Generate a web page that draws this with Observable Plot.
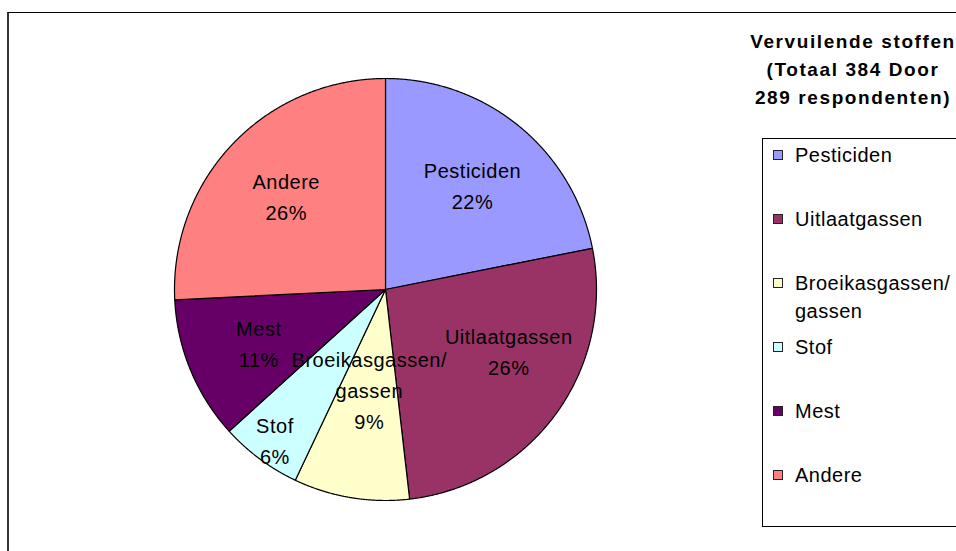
<!DOCTYPE html>
<html>
<head>
<meta charset="utf-8">
<script src="https://cdn.jsdelivr.net/npm/d3@7"></script>
<script src="https://cdn.jsdelivr.net/npm/@observablehq/plot@0.6"></script>
<style>
  html, body { margin: 0; padding: 0; background: #fff; }
  #wrap { position: relative; width: 956px; height: 551px; overflow: hidden; font-family: "Liberation Sans", Arial, sans-serif; }
  #frame { position: absolute; left: 7px; top: 12px; width: 2000px; height: 2000px; border-left: 2px solid #333; border-top: 1px solid #000; }
  #chart { position: absolute; left: 0; top: 0; }
  #title { position: absolute; left: 703px; top: 28px; width: 300px; text-align: center; font-weight: bold; font-size: 19px; line-height: 28px; letter-spacing: 1.6px; color: #000; white-space: nowrap; }
  #legend { position: absolute; left: 762px; top: 138px; width: 400px; height: 389px; border: 1px solid #000; box-sizing: border-box; padding-top: 2px; padding-left: 10px; }
  .item { height: 64px; display: flex; align-items: flex-start; font-size: 20px; line-height: 28px; letter-spacing: 0.5px; color: #000; white-space: pre-line; }
  .sw { width: 8px; height: 8px; border: 1px solid #222; margin-top: 9px; margin-right: 12px; flex: none; }
</style>
</head>
<body>
<div id="wrap">
  <div id="frame"></div>
  <div id="chart"></div>
  <div id="title"></div>
  <div id="legend"></div>
</div>
<script>
const categories = ["Pesticiden", "Uitlaatgassen", "Broeikasgassen/ gassen", "Stof", "Mest", "Andere"];
const counts = [84, 101, 34, 24, 42, 99];
const colors = ["#9999FF", "#993366", "#FFFFCC", "#CCFFFF", "#660066", "#FF8080"];
const titleLines = ["Vervuilende stoffen", "(Totaal 384 Door", "289 respondenten)"];

const total = d3.sum(counts);
const rows = categories.map((c, i) => ({category: c, count: counts[i]}));
const arcs = d3.pie().sort(null).value(d => d.count)(rows);

const pt = (a, r = 1) => [r * Math.sin(a), -r * Math.cos(a)];

const wedges = {
  type: "FeatureCollection",
  features: arcs.map(a => {
    const n = Math.max(2, Math.ceil((a.endAngle - a.startAngle) / 0.004));
    const ring = [[0, 0]];
    for (let k = 0; k <= n; k++) ring.push(pt(a.startAngle + (a.endAngle - a.startAngle) * k / n));
    ring.push([0, 0]);
    return {type: "Feature", properties: {category: a.data.category}, geometry: {type: "Polygon", coordinates: [ring]}};
  })
};

const circle = {type: "Polygon", coordinates: [d3.range(0, 361).map(d => pt(d * Math.PI / 180))]};

// label layout: start on the mid-angle at 0.65 R; on a collision the larger text block moves
// inward, the smaller one turns away inside its slice (if its slice is the wider) or moves outward
const R = 211, FS = 20, LH = 1.55, LS = 0.5;
const ctx = document.createElement("canvas").getContext("2d");
ctx.font = `${FS}px "Liberation Sans", Arial, sans-serif`;
const labels = arcs.map(a => {
  const mid = (a.startAngle + a.endAngle) / 2;
  const span = a.endAngle - a.startAngle;
  const label = a.data.category.replace("/ ", "/\n") + "\n" + Math.round(100 * a.data.count / total) + "%";
  const lines = label.split("\n");
  const w = d3.max(lines, l => ctx.measureText(l).width + LS * l.length) / R;
  const h = lines.length * FS * LH / R;
  return {ang: mid, lo: a.startAngle + 0.15 * span, hi: a.endAngle - 0.15 * span, span, r: 0.65, w, h, label};
});
const pos = l => { const [x, y] = pt(l.ang, l.r); return {x, y}; };
for (let it = 0; it < 800; it++) {
  let moved = false;
  for (let i = 0; i < labels.length; i++) for (let j = i + 1; j < labels.length; j++) {
    const a = labels[i], b = labels[j], pa = pos(a), pb = pos(b);
    const ox = (a.w + b.w) / 2 - Math.abs(pa.x - pb.x) - 0.01;
    const oy = (a.h + b.h) / 2 - Math.abs(pa.y - pb.y) - 0.01;
    if (ox > 0 && oy > 0) {
      const [small, big] = a.w * a.h < b.w * b.h ? [a, b] : [b, a];
      if (small.span > big.span) {
        const dir = Math.sign(small.ang - big.ang) || 1;
        small.ang = Math.max(small.lo, Math.min(small.hi, small.ang + dir * 0.004));
      } else {
        small.r = Math.min(0.88, small.r + 0.003);
      }
      big.r = Math.max(0.3, big.r - 0.0012);
      moved = true;
    }
  }
  if (!moved) break;
}
labels.forEach(l => { const p = pos(l); l.x = p.x; l.y = p.y; });

const chart = Plot.plot({
  width: 956,
  height: 551,
  marginLeft: 174,
  marginTop: 78,
  marginRight: 360,
  marginBottom: 51,
  projection: {type: "identity", domain: circle},
  color: {domain: categories, range: colors},
  style: {fontFamily: "'Liberation Sans', Arial, sans-serif", letterSpacing: LS + "px", background: "transparent", overflow: "visible"},
  marks: [
    Plot.geo(wedges, {fill: d => d.properties.category, stroke: "#000", strokeWidth: 1.2}),
    Plot.text(labels, {x: "x", y: "y", text: "label", fontSize: FS, lineHeight: LH, fill: "#000"})
  ]
});
document.getElementById("chart").appendChild(chart);

document.getElementById("title").innerHTML = titleLines.map(t => `<div>${t}</div>`).join("");

const legend = document.getElementById("legend");
categories.forEach((c, i) => {
  const item = document.createElement("div");
  item.className = "item";
  const sw = document.createElement("div");
  sw.className = "sw";
  sw.style.background = colors[i];
  const tx = document.createElement("div");
  tx.textContent = c.replace("/ ", "/\n");
  item.appendChild(sw);
  item.appendChild(tx);
  legend.appendChild(item);
});
</script>
</body>
</html>
